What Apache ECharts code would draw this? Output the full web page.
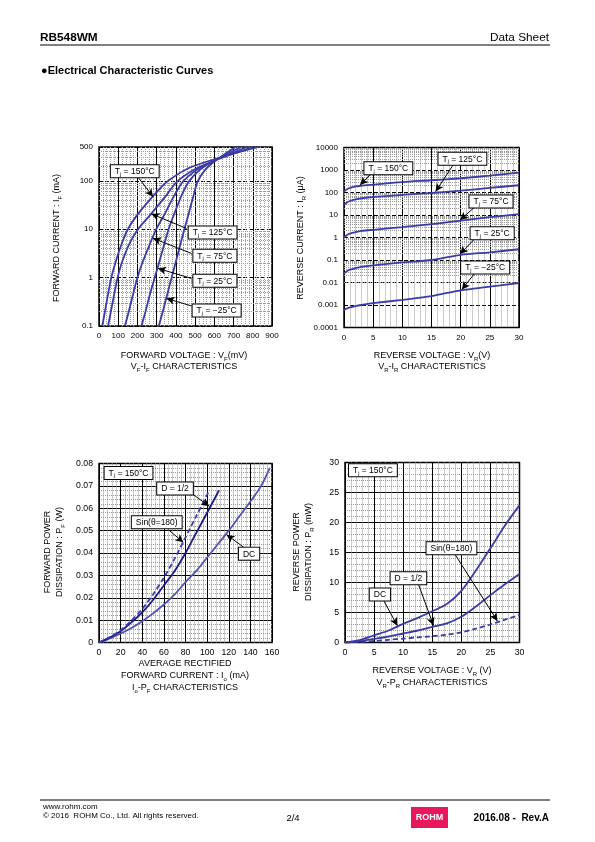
<!DOCTYPE html>
<html><head><meta charset="utf-8">
<script src="https://cdn.jsdelivr.net/npm/echarts@6/dist/echarts.min.js"></script>
<style>html,body{margin:0;padding:0;background:#fff}#c{width:595px;height:842px}</style>
</head><body><div id="c"></div>
<script>
// ---------- Chart 1 : VF-IF ----------
const ifLevels = [0.1, 0.2, 0.5, 1, 2, 5, 10, 20, 50, 100, 200, 500];
const vfT150 = [17, 31, 49, 64, 85, 118, 150, 200, 285, 360, 490, 830];
const vfT125 = [47, 62, 81, 97, 118, 158, 203, 268, 350, 410, 530, 800];
const vfT75  = [135, 155, 180, 200, 225, 265, 298, 340, 392, 440, 540, 770];
const vfT25  = [221, 242, 268, 290, 312, 340, 362, 390, 430, 470, 550, 740];
const vfTm25 = [311, 332, 358, 378, 398, 424, 444, 465, 492, 515, 570, 710];

// ---------- Chart 2 : VR-IR ----------
const vrLevels = [0, 0.5, 1, 2, 3, 5, 10, 15, 20, 25, 30];
const irT150 = [110, 140, 160, 185, 200, 225, 290, 350, 430, 560, 760];
const irT125 = [28, 36, 42, 50, 55, 63, 78, 95, 120, 160, 210];
const irT75  = [1.0, 1.3, 1.5, 1.75, 1.95, 2.2, 2.9, 3.9, 5.6, 8.0, 11];
const irT25  = [0.025, 0.032, 0.037, 0.044, 0.05, 0.058, 0.078, 0.1, 0.17, 0.22, 0.3];
const irTm25 = [0.0006, 0.0007, 0.00078, 0.0009, 0.001, 0.0012, 0.0017, 0.0025, 0.0045, 0.0065, 0.0095];

// ---------- Chart 3 : Io-PF ----------
const ioDC   = [0, 10, 20, 30, 40, 50, 60, 70, 80, 90, 100, 110, 120, 130, 140, 150, 158];
const pfDC   = [0, 0.0018, 0.004, 0.0065, 0.0095, 0.013, 0.017, 0.0215, 0.027, 0.032, 0.038, 0.044, 0.050, 0.0565, 0.063, 0.070, 0.078];
const ioHalf = [0, 10, 20, 30, 40, 50, 60, 70, 80, 90, 100, 111];
const pfHalf = [0, 0.0022, 0.005, 0.009, 0.0135, 0.019, 0.0255, 0.032, 0.040, 0.049, 0.058, 0.068];
const ioSin  = [0, 10, 20, 30, 40, 50, 60, 70, 80, 90, 101];
const pfSin  = [0, 0.0024, 0.0055, 0.0098, 0.015, 0.0215, 0.029, 0.0375, 0.047, 0.0565, 0.067];

// ---------- Chart 4 : VR-PR ----------
const vrPr   = [0, 2.5, 5, 7.5, 10, 12.5, 15, 17.5, 20, 22.5, 25, 27.5, 30];
const prDC   = [0, 0.4, 1.2, 2.0, 3.1, 4.1, 5.2, 6.4, 8.6, 12.0, 15.7, 19.5, 22.9];
const prHalf = [0, 0.2, 0.6, 1.0, 1.5, 2.0, 2.6, 3.2, 4.3, 6.0, 7.9, 9.7, 11.4];
const prSin  = [0, 0.1, 0.25, 0.45, 0.65, 0.85, 1.05, 1.3, 1.7, 2.3, 3.0, 3.8, 4.6];

// ---------- Annotations (data coordinates) ----------
const ann1Labels = [['150°C', 186, 157], ['125°C', 591, 8.6], ['75°C', 603, 2.83], ['25°C', 603, 0.86], ['−25°C', 612, 0.21]];
const ann1Arrows = [[203, 119, 281, 47], [455, 10.4, 273, 20.7], [481, 3.16, 281, 6.5], [481, 0.96, 307, 1.55], [481, 0.26, 351, 0.37]];
const ann2Labels = [['150°C', 7.6, 1200], ['125°C', 20.3, 3130], ['75°C', 25.2, 39.5], ['25°C', 25.4, 1.54], ['−25°C', 24.2, 0.047]];
const ann2Arrows = [[4.75, 719, 2.75, 218], [18.8, 1811, 15.7, 110], [22.5, 23.7, 19.9, 6.0], [22.5, 0.92, 19.9, 0.185], [22.5, 0.0273, 20.2, 0.0049]];
const ann3Labels = [['tj', 27.3, 0.0758], ['D = 1/2', 70.3, 0.0688], ['Sin(θ=180)', 53.4, 0.0537], ['DC', 138.8, 0.0397]];
const ann3Arrows = [[87.2, 0.0661, 102, 0.0609], [64.2, 0.0504, 78, 0.0448], [134.8, 0.0422, 118, 0.0482]];
const ann4Labels = [['tj', 4.8, 28.7], ['Sin(θ=180)', 18.3, 15.7], ['D = 1/2', 10.9, 10.7], ['DC', 6.0, 8.0]];
const ann4Arrows = [[18.9, 14.7, 26.2, 3.6], [12.6, 9.8, 15.2, 2.84], [6.7, 6.9, 9.0, 2.8]];

const FONT = '"Liberation Sans", Arial, Helvetica, sans-serif';
const C1 = '#3b3ba6';

const boxRich = {
  n: {fontSize: 8.5, fontFamily: FONT, color: '#000', lineHeight: 11},
  s: {fontSize: 5.5, fontFamily: FONT, color: '#000', lineHeight: 5.5, verticalAlign: 'bottom'}
};
function boxText(t) {
  if (t === 'tj') return '{n|T}{s|j}{n| = 150°C}';
  if (/°C$/.test(t)) return '{n|T}{s|j}{n| = ' + t + '}';
  return '{n|' + t + '}';
}
function markPoints(labels) {
  return {
    silent: true, animation: false, z: 8,
    symbol: 'rect', symbolSize: 1, itemStyle: {color: 'rgba(0,0,0,0)'},
    label: {show: true, position: 'inside', rich: boxRich, backgroundColor: '#fff', borderColor: '#000', borderWidth: 1, padding: [1, 4, 0, 4], color: '#000'},
    data: labels.map(l => ({coord: [l[1], l[2]], label: {formatter: boxText(l[0])}}))
  };
}
function arrows(list) {
  return {
    silent: true, animation: false, z: 7,
    symbol: ['none', 'arrow'], symbolSize: [6, 8],
    lineStyle: {color: '#000', width: 1, type: 'solid'},
    label: {show: false}, emphasis: {disabled: true},
    data: list.map(a => [{coord: [a[0], a[1]]}, {coord: [a[2], a[3]]}])
  };
}
function logMinor(minV, maxV) {
  const d = [];
  for (let p = minV; p < maxV; p *= 10) {
    for (let k = 2; k <= 9; k++) { const v = +(p * k).toPrecision(6); if (v < maxV) d.push({yAxis: v}); }
  }
  return {
    silent: true, animation: false, z: 1, symbol: ['none', 'none'],
    lineStyle: {color: '#999', width: 1, type: [1, 1]},
    label: {show: false}, emphasis: {disabled: true}, data: d
  };
}
function curve(g, pts, color, dashed, extra) {
  return Object.assign({
    type: 'line', xAxisIndex: g, yAxisIndex: g, data: pts, symbol: 'none', showSymbol: false,
    smooth: 0.3, silent: true, animation: false, z: 3,
    lineStyle: {color: color, width: 1.8, type: dashed ? [5, 3] : 'solid'}
  }, extra || {});
}
const zipXY = (xs, ys) => xs.map((x, i) => [x, ys[i]]);

const axLabelS = {fontSize: 8, color: '#000', fontFamily: FONT, margin: 6};
const axLabelL = {fontSize: 8.7, color: '#000', fontFamily: FONT, margin: 6};
const minorLine = {show: true, lineStyle: {color: '#999', width: 1, type: [1, 1]}};
function xAx(g, min, max, interval, lab) {
  return {type: 'value', gridIndex: g, min, max, interval,
    axisLine: {show: false}, axisTick: {show: false}, axisLabel: lab,
    splitLine: {show: true, lineStyle: {color: '#000', width: 1}},
    minorTick: {show: false, splitNumber: 5}, minorSplitLine: minorLine};
}
function yLin(g, min, max, interval, lab) {
  return {type: 'value', gridIndex: g, min, max, interval,
    axisLine: {show: false}, axisTick: {show: false}, axisLabel: lab,
    splitLine: {show: true, lineStyle: {color: '#000', width: 1}},
    minorTick: {show: false, splitNumber: 5}, minorSplitLine: minorLine};
}
function yLog(g, min, max) {
  return {type: 'log', logBase: 10, gridIndex: g, min, max,
    axisLine: {show: false}, axisTick: {show: false},
    axisLabel: Object.assign({}, axLabelS, {formatter: v => String(+(+v).toPrecision(6))}),
    splitLine: {show: true, lineStyle: {color: '#000', width: 1, type: [4, 2]}},
    minorTick: {show: false}, minorSplitLine: {show: false}};
}
const gridBase = {show: true, borderColor: '#000', borderWidth: 1.5, backgroundColor: 'transparent', containLabel: false};

const tRich = {
  n: {fontSize: 9, fontFamily: FONT, fill: '#000', lineHeight: 12},
  s: {fontSize: 6, fontFamily: FONT, fill: '#000', lineHeight: 6, verticalAlign: 'bottom'}
};
function ttl(x, y, text, rot) {
  return {type: 'text', x: x, y: y, rotation: rot ? Math.PI / 2 : 0, silent: true,
    style: {text: text, rich: tRich, font: '9px ' + FONT, fill: '#000', align: 'center', verticalAlign: 'middle'}};
}
function txt(x, y, text, font, align, fill) {
  return {type: 'text', x: x, y: y, silent: true,
    style: {text: text, font: font + ' ' + FONT, fill: fill || '#000', align: align || 'left', verticalAlign: 'middle'}};
}

const graphics = [
  txt(40, 38, 'RB548WM', 'bold 11.8px'),
  txt(549, 38, 'Data Sheet', '11.8px', 'right'),
  {type: 'line', silent: true, shape: {x1: 40, y1: 45, x2: 550, y2: 45}, style: {stroke: '#000', lineWidth: 1}},
  txt(41, 71, '●Electrical Characteristic Curves', 'bold 11px'),
  // chart 1 titles
  ttl(57, 238, '{n|FORWARD CURRENT : I}{s|F}{n| (mA)}', true),
  ttl(184, 356, '{n|FORWARD VOLTAGE : V}{s|F}{n|(mV)}'),
  ttl(184, 367, '{n|V}{s|F}{n|-I}{s|F}{n| CHARACTERISTICS}'),
  // chart 2 titles
  ttl(301, 238, '{n|REVERSE CURRENT : I}{s|R}{n| (μA)}', true),
  ttl(432, 356, '{n|REVERSE VOLTAGE : V}{s|R}{n|(V)}'),
  ttl(432, 367, '{n|V}{s|R}{n|-I}{s|R}{n| CHARACTERISTICS}'),
  // chart 3 titles
  ttl(48, 552, '{n|FORWARD POWER}', true),
  ttl(60, 552, '{n|DISSIPATION : P}{s|F}{n| (W)}', true),
  ttl(185, 664, '{n|AVERAGE RECTIFIED}'),
  ttl(185, 676, '{n|FORWARD CURRENT : I}{s|o}{n| (mA)}'),
  ttl(185, 688, '{n|I}{s|o}{n|-P}{s|F}{n| CHARACTERISTICS}'),
  // chart 4 titles
  ttl(297, 552, '{n|REVERSE POWER}', true),
  ttl(309, 552, '{n|DISSIPATION : P}{s|R}{n| (mW)}', true),
  ttl(432, 671, '{n|REVERSE VOLTAGE : V}{s|R}{n| (V)}'),
  ttl(432, 683, '{n|V}{s|R}{n|-P}{s|R}{n| CHARACTERISTICS}'),
  // footer
  {type: 'line', silent: true, shape: {x1: 40, y1: 800, x2: 550, y2: 800}, style: {stroke: '#000', lineWidth: 1}},
  txt(43, 807, 'www.rohm.com', '8px'),
  txt(43, 816, '© 2016  ROHM Co., Ltd. All rights reserved.', '8px'),
  txt(293, 818, '2/4', '9.5px', 'center'),
  {type: 'rect', silent: true, shape: {x: 411, y: 807, width: 37, height: 21}, style: {fill: '#e8185c'}},
  txt(429.5, 818, 'ROHM', 'bold 9px', 'center', '#fff'),
  txt(549, 818, '2016.08 -  Rev.A', 'bold 10px', 'right')
];

const option = {
  backgroundColor: '#fff',
  animation: false,
  grid: [
    Object.assign({left: 99, top: 147, width: 173, height: 179}, gridBase),
    Object.assign({left: 344, top: 147.5, width: 175, height: 180}, gridBase),
    Object.assign({left: 99, top: 463.5, width: 173, height: 179}, gridBase),
    Object.assign({left: 345, top: 462.5, width: 174.5, height: 180}, gridBase)
  ],
  xAxis: [xAx(0, 0, 900, 100, axLabelS), xAx(1, 0, 30, 5, axLabelS), xAx(2, 0, 160, 20, axLabelL), xAx(3, 0, 30, 5, axLabelL)],
  yAxis: [yLog(0, 0.1, 500), yLog(1, 0.0001, 10000), yLin(2, 0, 0.08, 0.01, axLabelL), yLin(3, 0, 30, 5, axLabelL)],
  series: [
    curve(0, zipXY(vfT150, ifLevels), C1, false, {markLine: logMinor(0.1, 500)}),
    curve(0, zipXY(vfT125, ifLevels), C1, false, {markLine: arrows(ann1Arrows), markPoint: markPoints(ann1Labels)}),
    curve(0, zipXY(vfT75, ifLevels), C1),
    curve(0, zipXY(vfT25, ifLevels), C1),
    curve(0, zipXY(vfTm25, ifLevels), C1),

    curve(1, zipXY(vrLevels, irT150), C1, false, {markLine: logMinor(0.0001, 10000)}),
    curve(1, zipXY(vrLevels, irT125), C1, false, {markLine: arrows(ann2Arrows), markPoint: markPoints(ann2Labels)}),
    curve(1, zipXY(vrLevels, irT75), C1),
    curve(1, zipXY(vrLevels, irT25), C1),
    curve(1, zipXY(vrLevels, irTm25), C1),

    curve(2, zipXY(ioDC, pfDC), '#5252b4'),
    curve(2, zipXY(ioHalf, pfHalf), '#1c1c86', false, {markLine: arrows(ann3Arrows), markPoint: markPoints(ann3Labels)}),
    curve(2, zipXY(ioSin, pfSin), '#3a3ab4', true),

    curve(3, zipXY(vrPr, prDC), C1, false, {markLine: arrows(ann4Arrows), markPoint: markPoints(ann4Labels)}),
    curve(3, zipXY(vrPr, prHalf), C1),
    curve(3, zipXY(vrPr, prSin), C1, true)
  ],
  graphic: graphics
};

const chart = echarts.init(document.getElementById('c'), null, {renderer: 'canvas', width: 595, height: 842});
chart.setOption(option);
</script>
</body></html>
